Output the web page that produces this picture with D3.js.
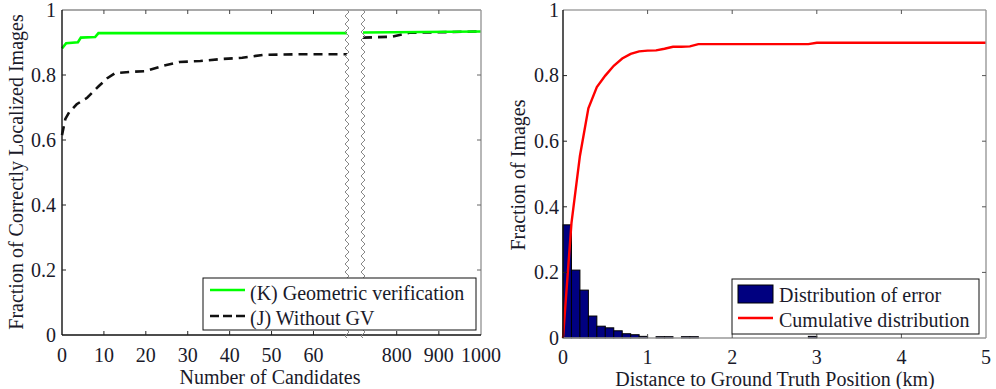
<!DOCTYPE html>
<html><head><meta charset="utf-8">
<script src="https://cdn.jsdelivr.net/npm/d3@7"></script>
</head><body style="margin:0;background:#fff"><svg id="c" width="996" height="389" style="display:block"></svg>
<script>
// ---------- data: left chart ----------
const ticksA = [0,10,20,30,40,50,60];
const ticksB = [800,900,1000];
const yTicks = [0,0.2,0.4,0.6,0.8,1];
const gvA_x = [0,1,3.8,4.5,7.9,8.7,68];
const gvA_y = [0.882,0.898,0.901,0.915,0.917,0.929,0.929];
const gvB_x = [720,1000];
const gvB_y = [0.931,0.934];
const noA_x = [0,0.8,1.7,3.5,6,8.8,10.8,12.7,17,20,24,28,33,38,43,48,57,68];
const noA_y = [0.615,0.665,0.685,0.71,0.73,0.766,0.79,0.806,0.81,0.812,0.828,0.84,0.843,0.849,0.853,0.862,0.864,0.864];
const noB_x = [720,790,830,1000];
const noB_y = [0.915,0.918,0.930,0.934];
const legendA = ["(K) Geometric verification","(J) Without GV"];
// ---------- data: right chart ----------
const binEdges = d3.range(0,50).map(i=>i/10);
const binVals = [0.345,0.207,0.146,0.067,0.036,0.031,0.022,0.013,0.01,0.005,
  0,0.004,0.004,0,0.004,0.004,0,0,0,0, 0,0,0,0,0,0,0,0,0,0.005,
  0,0,0,0,0,0,0,0,0,0, 0,0,0,0,0,0,0,0,0,0];
const cumX = [0,0.1,0.2,0.3,0.4,0.5,0.6,0.7,0.8,0.9,1.0,1.1,1.2,1.3,1.4,1.5,1.6,2.9,3.0,5.0];
const cumY = [0,0.35,0.555,0.70,0.765,0.80,0.83,0.852,0.866,0.874,0.876,0.877,0.882,0.888,0.888,0.889,0.896,0.896,0.90,0.90];
const xTicksR = [0,1,2,3,4,5];
const legendR = ["Distribution of error","Cumulative distribution"];

const svg = d3.select("#c");
const FS = 20;
const TXT = "#1a1a2a";
const FONT = "Liberation Serif";

// ---------- left chart ----------
const L = {l:62, r:481, t:10, b:335, brk1:347, brk2:363};
const xa = d3.scaleLinear().domain([0,68]).range([L.l, L.brk1]);
const xb = d3.scaleLinear().domain([720,1000]).range([L.brk2, L.r]);
const yl = d3.scaleLinear().domain([0,1]).range([L.b, L.t]);
const g1 = svg.append("g");

function line(xs, ys, sx, sy){ return d3.line().x((d,i)=>sx(xs[i])).y((d,i)=>sy(ys[i]))(xs); }
function txt(g, x, y, s, anchor){ return g.append("text").attr("x",x).attr("y",y).attr("text-anchor",anchor||"start").attr("font-family",FONT).attr("font-size",FS).attr("fill",TXT).text(s); }

g1.append("path").attr("d", line(noA_x,noA_y,xa,yl)).attr("fill","none").attr("stroke","#111").attr("stroke-width",2.6).attr("stroke-dasharray","9,6");
g1.append("path").attr("d", line(noB_x,noB_y,xb,yl)).attr("fill","none").attr("stroke","#111").attr("stroke-width",2.6).attr("stroke-dasharray","9,6");
g1.append("path").attr("d", line(gvA_x,gvA_y,xa,yl)).attr("fill","none").attr("stroke","#00ff00").attr("stroke-width",2.6);
g1.append("path").attr("d", line(gvB_x,gvB_y,xb,yl)).attr("fill","none").attr("stroke","#00ff00").attr("stroke-width",2.6);

// frame
g1.append("line").attr("x1",L.l).attr("x2",L.r).attr("y1",L.t).attr("y2",L.t).attr("stroke","#555").attr("stroke-width",1.2);
g1.append("line").attr("x1",L.r).attr("x2",L.r).attr("y1",L.t).attr("y2",L.b).attr("stroke","#999").attr("stroke-width",1.4);
g1.append("line").attr("x1",L.l).attr("x2",L.r).attr("y1",L.b).attr("y2",L.b).attr("stroke","#111").attr("stroke-width",1.4);
g1.append("line").attr("x1",L.l).attr("x2",L.l).attr("y1",L.t).attr("y2",L.b).attr("stroke","#111").attr("stroke-width",1.4);

// break markers (wavy lines)
[L.brk1, L.brk2].forEach(bx=>{
  const pts=[]; for(let y=L.t; y<=L.b+4; y+=2){ const k=Math.round((y-L.t)/2)%4; pts.push([bx + (k===1?2:(k===3?-2:0)), y]); }
  g1.append("path").attr("d", d3.line()(pts)).attr("fill","none").attr("stroke","#888").attr("stroke-width",1);
});

// ticks
const tk = 4;
ticksA.forEach(v=>{
  const x = xa(v);
  if(v>0){ g1.append("line").attr("x1",x).attr("x2",x).attr("y1",L.b).attr("y2",L.b-tk).attr("stroke","#222");
           g1.append("line").attr("x1",x).attr("x2",x).attr("y1",L.t).attr("y2",L.t+tk).attr("stroke","#444"); }
  txt(g1, x, 362, v, "middle");
});
ticksB.forEach(v=>{
  const x = xb(v);
  if(v<1000){ g1.append("line").attr("x1",x).attr("x2",x).attr("y1",L.b).attr("y2",L.b-tk).attr("stroke","#222");
           g1.append("line").attr("x1",x).attr("x2",x).attr("y1",L.t).attr("y2",L.t+tk).attr("stroke","#444"); }
  txt(g1, x, 362, v, "middle");
});
yTicks.forEach(v=>{
  const y = yl(v);
  if(v>0 && v<1){ g1.append("line").attr("x1",L.l).attr("x2",L.l+tk).attr("y1",y).attr("y2",y).attr("stroke","#222");
    g1.append("line").attr("x1",L.r).attr("x2",L.r-tk).attr("y1",y).attr("y2",y).attr("stroke","#666"); }
  txt(g1, 56, y, v, "end").attr("dy","0.34em");
});
txt(g1, 270, 384, "Number of Candidates", "middle");
txt(g1, 0, 0, "Fraction of Correctly Localized Images", "middle").attr("transform","translate(23,172) rotate(-90)");

// legend left
const lg1 = g1.append("g");
lg1.append("rect").attr("x",203).attr("y",278).attr("width",273).attr("height",52).attr("fill","#fff").attr("stroke","#111").attr("stroke-width",1);
lg1.append("line").attr("x1",210).attr("x2",245).attr("y1",290).attr("y2",290).attr("stroke","#00ff00").attr("stroke-width",2.6);
lg1.append("line").attr("x1",210).attr("x2",245).attr("y1",316).attr("y2",316).attr("stroke","#111").attr("stroke-width",2.6).attr("stroke-dasharray","9,4");
txt(lg1, 250, 300, legendA[0]);
txt(lg1, 250, 325, legendA[1]);

// ---------- right chart ----------
const R = {l:563, r:986, t:10, b:338};
const xr = d3.scaleLinear().domain([0,5]).range([R.l, R.r]);
const yr = d3.scaleLinear().domain([0,1]).range([R.b, R.t]);
const g2 = svg.append("g");

g2.selectAll("rect.bar").data(binEdges.map((e,i)=>({e, v:binVals[i]})).filter(d=>d.v>0)).enter().append("rect")
  .attr("x",d=>xr(d.e)).attr("width",d=>xr(d.e+0.1)-xr(d.e))
  .attr("y",d=>yr(d.v)).attr("height",d=>yr(0)-yr(d.v))
  .attr("fill","#000080").attr("stroke","#000").attr("stroke-width",1);

g2.append("path").attr("d", line(cumX,cumY,xr,yr)).attr("fill","none").attr("stroke","#ff0000").attr("stroke-width",2.4);

g2.append("line").attr("x1",R.l).attr("x2",R.r).attr("y1",R.t).attr("y2",R.t).attr("stroke","#777").attr("stroke-width",1.2);
g2.append("line").attr("x1",R.r).attr("x2",R.r).attr("y1",R.t).attr("y2",R.b).attr("stroke","#999").attr("stroke-width",1.4);
g2.append("line").attr("x1",R.l).attr("x2",R.r).attr("y1",R.b).attr("y2",R.b).attr("stroke","#999").attr("stroke-width",1.4);
g2.append("line").attr("x1",R.l).attr("x2",R.l).attr("y1",R.t).attr("y2",R.b).attr("stroke","#111").attr("stroke-width",1.4);

xTicksR.forEach(v=>{
  const x = xr(v);
  if(v>0 && v<5){ g2.append("line").attr("x1",x).attr("x2",x).attr("y1",R.b).attr("y2",R.b-tk).attr("stroke","#555");
    g2.append("line").attr("x1",x).attr("x2",x).attr("y1",R.t).attr("y2",R.t+tk).attr("stroke","#555"); }
  txt(g2, x, 364, v, "middle");
});
yTicks.forEach(v=>{
  const y = yr(v);
  if(v>0 && v<1){ g2.append("line").attr("x1",R.l).attr("x2",R.l+tk).attr("y1",y).attr("y2",y).attr("stroke","#222");
    g2.append("line").attr("x1",R.r).attr("x2",R.r-tk).attr("y1",y).attr("y2",y).attr("stroke","#555"); }
  txt(g2, 559, y, v, "end").attr("dy","0.34em");
});
txt(g2, 775, 386, "Distance to Ground Truth Position (km)", "middle");
txt(g2, 0, 0, "Fraction of Images", "middle").attr("transform","translate(525,175) rotate(-90)");

const lg2 = g2.append("g");
lg2.append("rect").attr("x",732).attr("y",279).attr("width",247).attr("height",55).attr("fill","#fff").attr("stroke","#111").attr("stroke-width",1);
lg2.append("rect").attr("x",738).attr("y",285).attr("width",35).attr("height",18).attr("fill","#000080").attr("stroke","#000");
lg2.append("line").attr("x1",738).attr("x2",773).attr("y1",318).attr("y2",318).attr("stroke","#ff0000").attr("stroke-width",2.4);
txt(lg2, 779, 302, legendR[0]);
txt(lg2, 779, 327, legendR[1]);
</script></body></html>
